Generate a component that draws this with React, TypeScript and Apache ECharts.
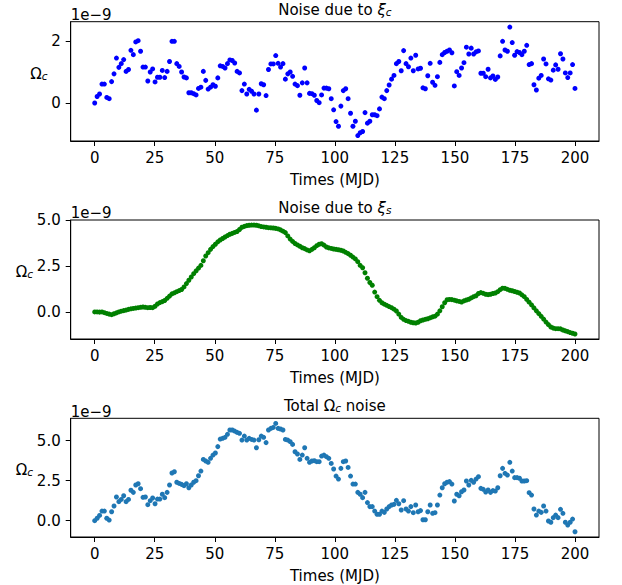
import React, { useEffect, useRef } from "react";
import * as echarts from "echarts";

// Values are in units of 1e-9 (shown by the "1e−9" offset text)
const TIME_START = 0;
const TIME_END = 200;

const xiC = [
  0, 0.21, 0.29, 0.61, 0.61, 0.18, 0.14, 0.69, 0.94, 1.45,
  1.15, 1.27, 1.40, 1.02, 1.08, 1.70, 1.56, 1.97, 2.01, 1.67,
  1.16, 1.16, 0.71, 1.0, 1.10, 0.68, 0.83, 0.83, 1.05, 0.82,
  1.02, 1.34, 1.99, 1.99, 1.27, 1.18, 1.0, 0.84, 0.81, 0.33,
  0.33, 0.30, 0.26, 0.47, 0.51, 1.02, 0.73, 0.45, 0.51, 0.59,
  0.54, 0.81, 1.20, 1.18, 1.13, 1.27, 1.39, 1.37, 1.29, 1.02,
  0.97, 0.40, 0.61, 0.29, 0.44, 0.38, 0.29, -0.23, 0.29, 0.62,
  0.59, 0.24, 1.08, 1.26, 1.26, 1.53, 1.28, 1.16, 1.27, 0.77,
  0.94, 1.0, 0.86, 0.61, 0.56, 0.25, 0.65, 1.13, 0.65, 0.31,
  0.30, 0.25, 0.08, 0.01, 0.26, 0.48, 0.48, 0.46, 0.14, -0.22,
  -0.60, -0.75, -0.10, 0.40, 0.46, 0.14, -0.33, -0.75, -0.59, -1.05,
  -0.96, -0.92, -0.31, -0.65, -0.59, -0.38, -0.38, -0.41, -0.19, 0.19,
  0.14, 0.40, 0.58, 0.77, 0.89, 1.27, 1.34, 1.04, 1.69, 1.27,
  1.17, 1.45, 1.04, 1.54, 1.10, 1.12, 0.49, 0.46, 0.88, 1.28,
  0.67, 0.57, 0.85, 1.31, 1.56, 1.63, 1.67, 1.71, 1.62, 0.55,
  1.01, 0.89, 1.13, 1.30, 1.80, 1.58, 1.77, 1.58, 1.65, 1.68,
  0.96, 0.96, 0.85, 1.09, 0.81, 0.87, 0.76, 0.84, 1.52, 1.99,
  1.71, 1.67, 2.45, 1.95, 1.54, 1.66, 1.63, 1.56, 1.67, 1.86,
  1.24, 1.27, 0.59, 0.42, 0.80, 0.89, 1.42, 1.26, 0.78, 0.74,
  1.06, 1.23, 1.09, 1.59, 1.42, 0.97, 0.82, 0.97, 1.24, 0.47,
];

const xiS = [
  0.02, 0.02, 0.01, 0.02, -0.02, -0.06, -0.10, -0.13, -0.08, -0.03,
  0.02, 0.06, 0.09, 0.12, 0.16, 0.19, 0.21, 0.23, 0.25, 0.27,
  0.29, 0.27, 0.25, 0.26, 0.25, 0.33, 0.45, 0.53, 0.58, 0.64,
  0.76, 0.88, 1.00, 1.06, 1.12, 1.18, 1.24, 1.38, 1.56, 1.74,
  1.92, 2.10, 2.25, 2.40, 2.55, 2.80, 3.06, 3.24, 3.42, 3.57,
  3.70, 3.83, 3.93, 4.01, 4.09, 4.17, 4.24, 4.29, 4.34, 4.39,
  4.50, 4.62, 4.67, 4.71, 4.73, 4.74, 4.74, 4.73, 4.70, 4.66,
  4.64, 4.62, 4.60, 4.59, 4.58, 4.56, 4.53, 4.48, 4.41, 4.33,
  4.15, 3.98, 3.85, 3.74, 3.66, 3.59, 3.51, 3.46, 3.39, 3.34,
  3.42, 3.51, 3.62, 3.70, 3.73, 3.65, 3.55, 3.50, 3.47, 3.44,
  3.42, 3.40, 3.37, 3.33, 3.26, 3.19, 3.10, 3.00, 2.90, 2.75,
  2.55, 2.42, 2.15, 1.85, 1.62, 1.47, 1.10, 0.85, 0.65, 0.52,
  0.44, 0.38, 0.31, 0.25, 0.17, 0.07, -0.10, -0.28, -0.38, -0.45,
  -0.49, -0.54, -0.57, -0.58, -0.54, -0.46, -0.42, -0.38, -0.35, -0.30,
  -0.25, -0.21, -0.10, 0.08, 0.30, 0.52, 0.68, 0.70, 0.69, 0.66,
  0.62, 0.59, 0.56, 0.62, 0.67, 0.71, 0.78, 0.85, 0.90, 1.02,
  1.07, 1.03, 0.98, 0.96, 0.98, 1.02, 1.05, 1.12, 1.23, 1.31,
  1.30, 1.25, 1.20, 1.17, 1.13, 1.09, 1.05, 0.95, 0.85, 0.70,
  0.55, 0.40, 0.24, 0.08, -0.07, -0.22, -0.37, -0.53, -0.67, -0.80,
  -0.86, -0.89, -0.89, -0.90, -0.96, -1.01, -1.05, -1.10, -1.14, -1.18,
];

const totalNoise = [
  0, 0.15, 0.33, 0.60, 0.60, 0.15, 0.04, 0.56, 0.92, 1.48,
  1.19, 1.33, 1.56, 1.19, 1.33, 1.90, 1.77, 2.23, 2.31, 2.0,
  1.46, 1.48, 1.0, 1.25, 1.42, 1.06, 1.35, 1.35, 1.65, 1.44,
  1.77, 2.23, 2.98, 3.06, 2.40, 2.33, 2.27, 2.19, 2.31, 2.06,
  2.23, 2.40, 2.50, 2.81, 3.10, 3.83, 3.73, 3.65, 3.90, 4.10,
  4.23, 4.63, 5.10, 5.15, 5.21, 5.40, 5.67, 5.67, 5.60, 5.52,
  5.46, 5.04, 5.29, 5.04, 5.15, 5.08, 5.04, 4.56, 5.06, 5.29,
  5.21, 4.88, 5.67, 5.77, 5.83, 6.08, 5.77, 5.73, 5.67, 5.08,
  5.04, 4.94, 4.77, 4.31, 4.17, 3.83, 4.10, 4.56, 3.90, 3.65,
  3.73, 3.75, 3.69, 3.69, 4.04, 4.10, 4.0, 3.90, 3.58, 3.23,
  2.79, 2.60, 3.27, 3.69, 3.73, 3.33, 2.79, 2.29, 2.29, 1.77,
  1.65, 1.44, 1.77, 1.13, 0.88, 0.88, 0.60, 0.40, 0.40, 0.60,
  0.52, 0.73, 0.88, 0.98, 1.02, 1.27, 1.06, 0.67, 1.25, 0.73,
  0.60, 0.88, 0.50, 0.98, 0.56, 0.63, 0.06, 0.06, 0.56, 0.98,
  0.46, 0.50, 0.98, 1.60, 2.06, 2.31, 2.40, 2.44, 2.29, 1.23,
  1.65, 1.56, 1.81, 1.92, 2.48, 2.23, 2.52, 2.40, 2.60, 2.75,
  2.02, 1.96, 1.79, 1.92, 1.77, 1.88, 1.85, 2.06, 2.81, 3.27,
  2.96, 2.85, 3.65, 3.10, 2.69, 2.69, 2.65, 2.48, 2.48, 2.50,
  1.75, 1.60, 0.73, 0.35, 0.60, 0.52, 0.92, 0.60, -0.02, -0.10,
  0.19, 0.35, 0.19, 0.71, 0.46, -0.10, -0.27, -0.10, 0.10, -0.69,
];

const xTicks = [0, 25, 50, 75, 100, 125, 150, 175, 200];
const yTicksTop = [0, 2];
const yTicksMid = [0, 2.5, 5];
const yTicksBottom = [0, 2.5, 5];
const offsetText = "1e\u22129";
const xName = "Times (MJD)";

const FONT = "DejaVu Sans";
const FS = 15;

function sampleTimes(n: number): number[] {
  const out: number[] = [];
  for (let i = 0; i < n; i++) out.push(TIME_START + ((TIME_END - TIME_START) * i) / (n - 1));
  return out;
}

const rich = {
  n: { fontFamily: FONT, fontSize: FS, lineHeight: 17, verticalAlign: "bottom", fill: "#000", color: "#000" },
  i: { fontFamily: FONT, fontSize: FS, fontStyle: "italic", lineHeight: 17, verticalAlign: "bottom", fill: "#000", color: "#000" },
  s: { fontFamily: FONT, fontSize: 10.5, fontStyle: "italic", lineHeight: 9, verticalAlign: "bottom", fill: "#000", color: "#000" },
};

export default function App() {
  const ref = useRef<HTMLDivElement>(null);

  useEffect(() => {
    if (!ref.current) return;
    const chart = echarts.init(ref.current, null, { renderer: "svg" });

    const gridLeft = 70.7;
    const gridWidth = 528.3;
    const panels = [
      { top: 21.7, height: 119.3, min: -1.226, max: 2.623, ticks: yTicksTop, fmt: (v: number) => String(v), data: xiC, color: "#0000ff", title: "{n|Noise due to }{i|\u03BE}{s|c}", ylabX: 47.5 },
      { top: 220, height: 119, min: -1.451, max: 5.016, ticks: yTicksMid, fmt: (v: number) => v.toFixed(1), data: xiS, color: "#008000", title: "{n|Noise due to }{i|\u03BE}{s|s}", ylabX: 33 },
      { top: 418.3, height: 118.7, min: -1.02, max: 6.4, ticks: yTicksBottom, fmt: (v: number) => v.toFixed(1), data: totalNoise, color: "#1f77b4", title: "{n|Total \u03A9}{s|c}{n| noise}", ylabX: 33 },
    ];

    const grids: any[] = [];
    const xAxes: any[] = [];
    const yAxes: any[] = [];
    const series: any[] = [];
    const graphics: any[] = [];

    panels.forEach((p, k) => {
      grids.push({
        left: gridLeft, top: p.top, width: gridWidth, height: p.height,
        show: true, borderColor: "#000", borderWidth: 1, backgroundColor: "transparent",
      });
      xAxes.push({
        type: "value", gridIndex: k, min: -10, max: 210,
        axisLine: { show: true, onZero: false, lineStyle: { color: "#000", width: 1 } },
        axisTick: { show: true, inside: false, length: 5, customValues: xTicks, lineStyle: { color: "#000", width: 1 } },
        axisLabel: { show: true, customValues: xTicks, margin: 9, color: "#000", fontFamily: FONT, fontSize: FS },
        splitLine: { show: false },
        name: xName, nameLocation: "middle", nameGap: 31,
        nameTextStyle: { color: "#000", fontFamily: FONT, fontSize: FS },
      });
      yAxes.push({
        type: "value", gridIndex: k, min: p.min, max: p.max,
        axisLine: { show: true, onZero: false, lineStyle: { color: "#000", width: 1 } },
        axisTick: { show: true, inside: false, length: 5, customValues: p.ticks, lineStyle: { color: "#000", width: 1 } },
        axisLabel: { show: true, customValues: p.ticks, margin: 10, color: "#000", fontFamily: FONT, fontSize: FS, formatter: p.fmt },
        splitLine: { show: false },
      });
      const t = sampleTimes(p.data.length);
      series.push({
        type: "scatter", xAxisIndex: k, yAxisIndex: k,
        data: p.data.map((v, i) => [t[i], v]),
        symbol: "circle", symbolSize: 5,
        itemStyle: { color: p.color, opacity: 1 },
        silent: true,
      });
      graphics.push({
        type: "text", x: gridLeft + gridWidth / 2, y: p.top - 4.6,
        style: { text: p.title, rich, align: "center", verticalAlign: "bottom", textAlign: "center", textVerticalAlign: "bottom" },
      });
      graphics.push({
        type: "text", x: gridLeft, y: p.top + 0.7,
        style: { text: "{n|" + offsetText + "}", rich, align: "left", verticalAlign: "bottom", textAlign: "left", textVerticalAlign: "bottom" },
      });
      graphics.push({
        type: "text", x: p.ylabX, y: p.top + p.height / 2,
        style: { text: "{n|\u03A9}{s|c}", rich, align: "right", verticalAlign: "bottom", textAlign: "right", textVerticalAlign: "bottom" },
      });
    });

    chart.setOption({
      animation: false,
      backgroundColor: "#fff",
      grid: grids,
      xAxis: xAxes,
      yAxis: yAxes,
      series,
      graphic: graphics,
    });

    return () => chart.dispose();
  }, []);

  return (
    <div
      ref={ref}
      style={{ position: "fixed", left: 0, top: 0, width: 622, height: 585, background: "#fff" }}
    />
  );
}
